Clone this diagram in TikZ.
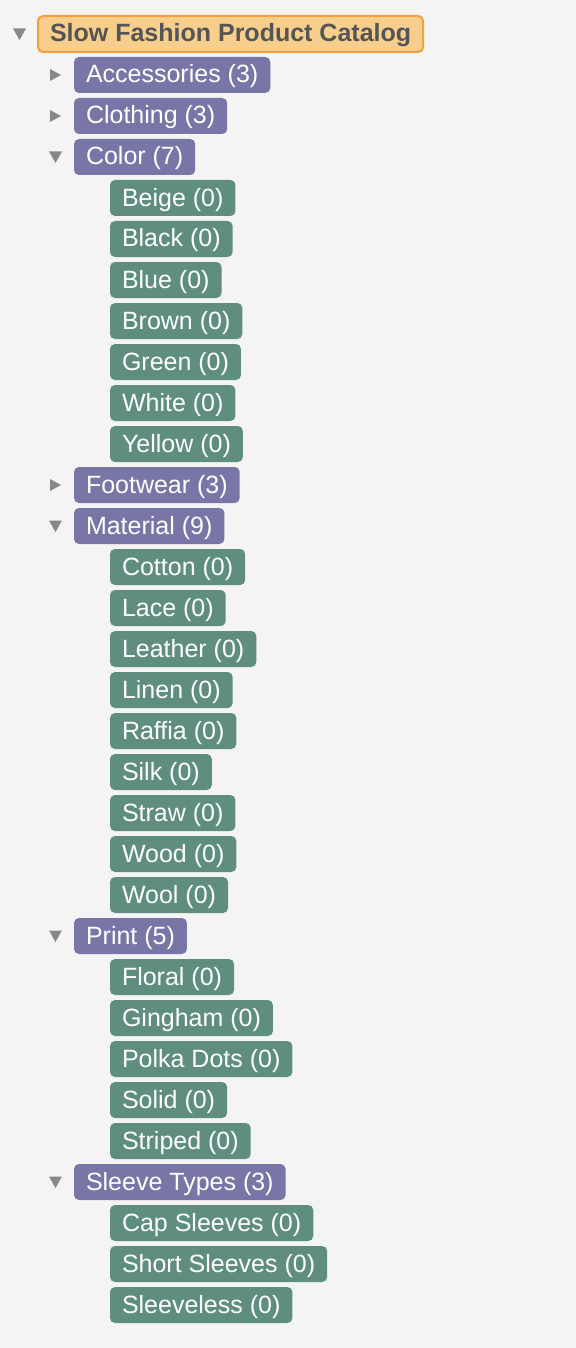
\documentclass[tikz,border=0pt]{standalone}
\usepackage{fontspec}
\setmainfont{Liberation Sans}
\usepackage{xcolor}
\usetikzlibrary{positioning}

\definecolor{bgcol}{HTML}{F4F4F4}
\definecolor{rootfill}{HTML}{F7CE8C}
\definecolor{rootline}{HTML}{F2A03C}
\definecolor{rootText}{HTML}{555555}
\definecolor{catcol}{HTML}{7776A6}
\definecolor{leafcol}{HTML}{5F8E81}
\definecolor{togglecol}{HTML}{888888}

\begin{document}
\begin{tikzpicture}[
  font=\fontsize{12.5pt}{15pt}\selectfont,
  every node/.style={inner xsep=6pt,inner ysep=0pt,outer sep=0pt,minimum height=18pt,
    text height=10.5pt,text depth=2.5pt,rounded corners=2.5pt,anchor=west}
]

\tikzstyle{rootbox}=[draw=rootline,line width=1pt,fill=rootfill,text=rootText,font=\fontsize{12.5pt}{15pt}\selectfont\bfseries]
\tikzstyle{catbox}=[fill=catcol,text=white]
\tikzstyle{leafbox}=[fill=leafcol,text=white]
\tikzset{
  folded/.pic={\fill[togglecol,sharp corners] (-12pt,3pt) -- (-12pt,-3pt) -- (-6.5pt,0pt) -- cycle;},
  unfolded/.pic={\fill[togglecol,sharp corners] (-12.5pt,2.75pt) -- (-6pt,2.75pt) -- (-9.25pt,-3pt) -- cycle;}
}

% page
\fill[bgcol] (0,0) rectangle (288pt,-674pt);

\node[rootbox] (root) at (19pt,-17pt) {Slow Fashion Product Catalog};

\node[catbox, below right=2.5pt and 18pt of root.south west, anchor=north west] (acc) {Accessories (3)};
\node[catbox, below=2.5pt of acc.south west, anchor=north west] (cloth) {Clothing (3)};
\node[catbox, below=2.5pt of cloth.south west, anchor=north west] (color) {Color (7)};

\node[leafbox, below right=2.5pt and 18pt of color.south west, anchor=north west] (beige) {Beige (0)};
\node[leafbox, below=2.5pt of beige.south west, anchor=north west] (black) {Black (0)};
\node[leafbox, below=2.5pt of black.south west, anchor=north west] (blue) {Blue (0)};
\node[leafbox, below=2.5pt of blue.south west, anchor=north west] (brown) {Brown (0)};
\node[leafbox, below=2.5pt of brown.south west, anchor=north west] (green) {Green (0)};
\node[leafbox, below=2.5pt of green.south west, anchor=north west] (white) {White (0)};
\node[leafbox, below=2.5pt of white.south west, anchor=north west] (yellow) {Yellow (0)};

\node[catbox, below left=2.5pt and 18pt of yellow.south west, anchor=north west] (foot) {Footwear (3)};
\node[catbox, below=2.5pt of foot.south west, anchor=north west] (mat) {Material (9)};

\node[leafbox, below right=2.5pt and 18pt of mat.south west, anchor=north west] (cotton) {Cotton (0)};
\node[leafbox, below=2.5pt of cotton.south west, anchor=north west] (lace) {Lace (0)};
\node[leafbox, below=2.5pt of lace.south west, anchor=north west] (leather) {Leather (0)};
\node[leafbox, below=2.5pt of leather.south west, anchor=north west] (linen) {Linen (0)};
\node[leafbox, below=2.5pt of linen.south west, anchor=north west] (raffia) {Raffia (0)};
\node[leafbox, below=2.5pt of raffia.south west, anchor=north west] (silk) {Silk (0)};
\node[leafbox, below=2.5pt of silk.south west, anchor=north west] (straw) {Straw (0)};
\node[leafbox, below=2.5pt of straw.south west, anchor=north west] (wood) {Wood (0)};
\node[leafbox, below=2.5pt of wood.south west, anchor=north west] (wool) {Wool (0)};

\node[catbox, below left=2.5pt and 18pt of wool.south west, anchor=north west] (print) {Print (5)};

\node[leafbox, below right=2.5pt and 18pt of print.south west, anchor=north west] (floral) {Floral (0)};
\node[leafbox, below=2.5pt of floral.south west, anchor=north west] (gingham) {Gingham (0)};
\node[leafbox, below=2.5pt of gingham.south west, anchor=north west] (polka) {Polka Dots (0)};
\node[leafbox, below=2.5pt of polka.south west, anchor=north west] (solid) {Solid (0)};
\node[leafbox, below=2.5pt of solid.south west, anchor=north west] (striped) {Striped (0)};

\node[catbox, below left=2.5pt and 18pt of striped.south west, anchor=north west] (sleeve) {Sleeve Types (3)};

\node[leafbox, below right=2.5pt and 18pt of sleeve.south west, anchor=north west] (cap) {Cap Sleeves (0)};
\node[leafbox, below=2.5pt of cap.south west, anchor=north west] (short) {Short Sleeves (0)};
\node[leafbox, below=2.5pt of short.south west, anchor=north west] (sleeveless) {Sleeveless (0)};

% toggles
\pic at (root.west) {unfolded};
\pic at (acc.west) {folded};
\pic at (cloth.west) {folded};
\pic at (color.west) {unfolded};
\pic at (foot.west) {folded};
\pic at (mat.west) {unfolded};
\pic at (print.west) {unfolded};
\pic at (sleeve.west) {unfolded};

\end{tikzpicture}
\end{document}
